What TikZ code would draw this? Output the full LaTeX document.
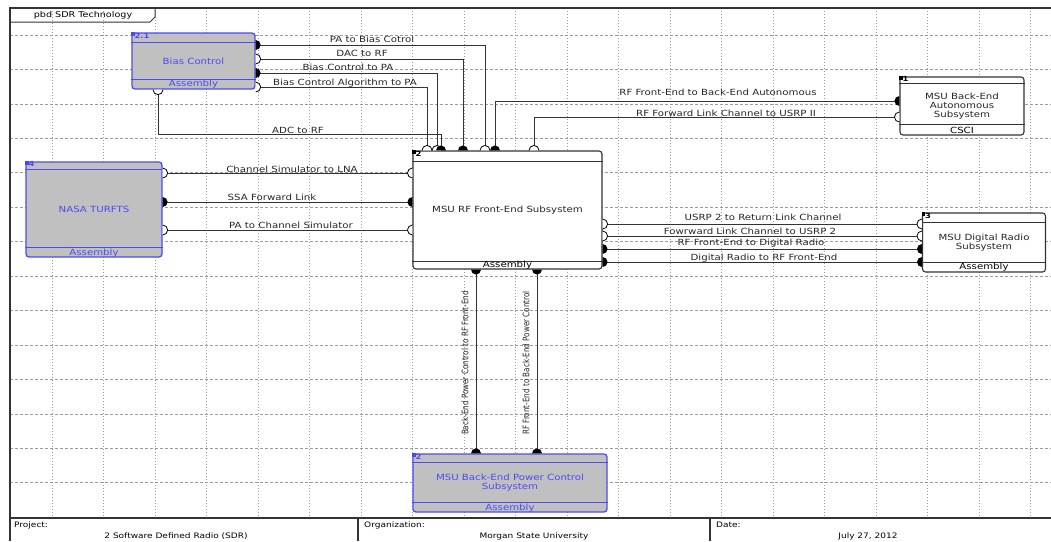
\documentclass[tikz,border=0pt]{standalone}
\usepackage{fontspec}
\setmainfont{DejaVu Sans}[FakeStretch=1.2]
\newfontfamily\narrowfont{DejaVu Sans}[FakeStretch=0.8]
\usetikzlibrary{calc}

\definecolor{partgray}{HTML}{C0C0C0}
\definecolor{partblue}{HTML}{4B4BF5}
\definecolor{gridgray}{HTML}{9C9C9C}

\tikzset{
    pics/ball/.style={code={
        \fill[black] (#1-90:5) arc[start angle=#1-90, delta angle=180, radius=5] -- cycle;}},
    pics/socket/.style={code={
        \draw[black, fill=white, line width=0.8pt] (#1-90:5) arc[start angle=#1-90, delta angle=180, radius=5];}}
}

\begin{document}
\begin{tikzpicture}[
            x=1pt, y=-1pt,
            font=\fontsize{8.5}{9}\selectfont,
            grid row/.style={gridgray, line width=0.8pt, dash pattern=on 3pt off 2pt},
            grid col/.style={gridgray, line width=0.8pt, dash pattern=on 1pt off 2pt},
            frame/.style={line width=1.6pt, black!80},
            wire/.style={line width=1pt, black!80},
            part/.style={rounded corners=3pt, inner sep=0pt, align=center},
            assembly/.style={part, draw=partblue, fill=partgray, text=partblue, line width=1.3pt},
            subsystem/.style={part, draw=black!80, fill=white, text=black!85, line width=1.1pt},
            band/.style={line width=1.1pt},
            partnum/.style={anchor=north west, inner sep=1pt, font=\fontsize{7}{7}\selectfont\bfseries},
            kind/.style={inner sep=0pt},
            lbl/.style={inner sep=0pt, text=black!85},
            vlbl/.style={inner sep=0pt, rotate=90, text=black!85, font=\narrowfont\fontsize{9}{9}\selectfont},
            title/.style={inner sep=0pt, font=\fontsize{7.5}{8}\selectfont}
            ]
            \useasboundingbox (0,0) rectangle (1051,541);

            % grid
            \foreach \gy in {0,...,13}
                \draw[grid row] (10,{35+34.45*\gy}) -- (1051,{35+34.45*\gy});
            \foreach \gx in {0,...,19}
                \draw[grid col] ({52+51.5*\gx},8) -- ({52+51.5*\gx},518);

            % frame and title block
            \draw[frame] (1051,8) -- (10,8) -- (10,541);
            \draw[frame] (10,518) -- (1051,518);
            \draw[frame] (358,518) -- (358,541);
            \draw[frame] (710,518) -- (710,541);
            \draw[line width=1pt, black!80] (10,22) -- (150,22) -- (155,17) -- (155,8);
            \node[title, font=\fontsize{8}{8}\selectfont] (diagname) at (83,15) {pbd SDR Technology};

            \node[title, anchor=west] (projhead) at (14,525) {Project:};
            \node[title] (projname) at (176,536) {2 Software Defined Radio (SDR)};
            \node[title, anchor=west] (orghead) at (364,525) {Organization:};
            \node[title] (orgname) at (534,536) {Morgan State University};
            \node[title, anchor=west] (datehead) at (716,525) {Date:};
            \node[title] (datename) at (868,536) {July 27, 2012};

            % parts
            \node[assembly, minimum width=123pt, minimum height=56pt] (bias) at (193.5,61) {Bias Control};
            \node[assembly, minimum width=136pt, minimum height=95pt] (nasa) at (94,209.5) {NASA TURFTS};
            \node[subsystem, minimum width=189pt, minimum height=118pt] (rf) at (507.5,210) {MSU RF Front-End Subsystem};
            \node[subsystem, minimum width=124pt, minimum height=58pt] (auto) at (962,106) {MSU Back-End\\Autonomous\\Subsystem};
            \node[subsystem, minimum width=123pt, minimum height=59pt] (radio) at (984,242.5) {MSU Digital Radio\\Subsystem};
            \node[assembly, minimum width=194pt, minimum height=58pt] (power) at (510,483) {MSU Back-End Power Control\\Subsystem};

            % header and footer bands
            \draw[band, partblue] ($(bias.north west)+(0,10)$) -- ($(bias.north east)+(0,10)$);
            \draw[band, partblue] ($(bias.south west)+(0,-10)$) -- ($(bias.south east)+(0,-10)$);
            \draw[band, partblue] ($(nasa.north west)+(0,8)$) -- ($(nasa.north east)+(0,8)$);
            \draw[band, partblue] ($(nasa.south west)+(0,-10)$) -- ($(nasa.south east)+(0,-10)$);
            \draw[band, black!80] ($(rf.north west)+(0,11)$) -- ($(rf.north east)+(0,11)$);
            \draw[band, black!80] ($(rf.south west)+(0,-8)$) -- ($(rf.south east)+(0,-8)$);
            \draw[band, black!80] ($(auto.north west)+(0,7)$) -- ($(auto.north east)+(0,7)$);
            \draw[band, black!80] ($(auto.south west)+(0,-11)$) -- ($(auto.south east)+(0,-11)$);
            \draw[band, black!80] ($(radio.north west)+(0,10)$) -- ($(radio.north east)+(0,10)$);
            \draw[band, black!80] ($(radio.south west)+(0,-10)$) -- ($(radio.south east)+(0,-10)$);
            \draw[band, partblue] ($(power.north west)+(0,9)$) -- ($(power.north east)+(0,9)$);
            \draw[band, partblue] ($(power.south west)+(0,-10)$) -- ($(power.south east)+(0,-10)$);

            % corner marks and numbers
            \fill[partblue] (bias.north west) rectangle ++(3.5,3.5);
            \fill[partblue] (nasa.north west) rectangle ++(3.5,3.5);
            \fill[black] (rf.north west) rectangle ++(3.5,3.5);
            \fill[black] (auto.north west) rectangle ++(3.5,3.5);
            \fill[black] (radio.north west) rectangle ++(3.5,3.5);
            \fill[partblue] (power.north west) rectangle ++(3.5,3.5);
            \node[partnum, text=partblue] (biasNum) at ($(bias.north west)+(2,0)$) {2.1};
            \node[partnum, text=partblue] (nasaNum) at ($(nasa.north west)+(2,-1)$) {4};
            \node[partnum] (rfNum) at ($(rf.north west)+(2,0)$) {2};
            \node[partnum] (autoNum) at ($(auto.north west)+(2,-1)$) {1};
            \node[partnum] (radioNum) at ($(radio.north west)+(2,0)$) {3};
            \node[partnum, text=partblue] (powerNum) at ($(power.north west)+(2,0)$) {2};

            % footer texts
            \node[kind, text=partblue] (biasKind) at ($(bias.south)+(0,-5)$) {Assembly};
            \node[kind, text=partblue] (nasaKind) at ($(nasa.south)+(0,-5)$) {Assembly};
            \node[kind] (rfKind) at ($(rf.south)+(0,-4)$) {Assembly};
            \node[kind] (autoKind) at ($(auto.south)+(0,-5.5)$) {CSCI};
            \node[kind] (radioKind) at ($(radio.south)+(0,-5)$) {Assembly};
            \node[kind, text=partblue] (powerKind) at ($(power.south)+(0,-5)$) {Assembly};

            % ports
            \coordinate (biasPA)  at (bias.east |- 0,45);
            \coordinate (biasDAC) at (bias.east |- 0,59);
            \coordinate (biasCtl) at (bias.east |- 0,73);
            \coordinate (biasAlg) at (bias.east |- 0,87);
            \coordinate (biasADC) at (158,0 |- bias.south);

            \coordinate (rfAlg)  at (427,0 |- rf.north);
            \coordinate (rfCtl)  at (437,0 |- rf.north);
            \coordinate (rfADC)  at (441,0 |- rf.north);
            \coordinate (rfDAC)  at (463,0 |- rf.north);
            \coordinate (rfPA)   at (485,0 |- rf.north);
            \coordinate (rfAuto) at (495,0 |- rf.north);
            \coordinate (rfFwd)  at (534,0 |- rf.north);
            \coordinate (rfLNA)  at (rf.west |- 0,173);
            \coordinate (rfSSA)  at (rf.west |- 0,202);
            \coordinate (rfChan) at (rf.west |- 0,230);
            \coordinate (rfUsrp)   at (rf.east |- 0,224);
            \coordinate (rfFwdL)   at (rf.east |- 0,236);
            \coordinate (rfToDR)   at (rf.east |- 0,249);
            \coordinate (rfFromDR) at (rf.east |- 0,262);
            \coordinate (rfPwrIn)  at (476,0 |- rf.south);
            \coordinate (rfPwrOut) at (537,0 |- rf.south);

            \coordinate (nasaLNA)  at (nasa.east |- 0,173);
            \coordinate (nasaSSA)  at (nasa.east |- 0,202);
            \coordinate (nasaChan) at (nasa.east |- 0,230);
            \coordinate (autoRF)  at (auto.west |- 0,101);
            \coordinate (autoFwd) at (auto.west |- 0,117);
            \coordinate (drUsrp)   at (radio.west |- 0,224);
            \coordinate (drFwdL)   at (radio.west |- 0,236);
            \coordinate (drFromRF) at (radio.west |- 0,249);
            \coordinate (drToRF)   at (radio.west |- 0,262);
            \coordinate (pwrIn)  at (476,0 |- power.north);
            \coordinate (pwrOut) at (537,0 |- power.north);

            % connectors
            \draw[wire] (biasPA) -| (rfPA);
            \draw[wire] (biasDAC) -| (rfDAC);
            \draw[wire] (biasCtl) -| (rfCtl);
            \draw[wire] (biasAlg) -| (rfAlg);
            \draw[wire] (biasADC) |- ($(rfADC)+(0,-16)$) -- (rfADC);
            \draw[wire] (rfAuto) |- (autoRF);
            \draw[wire] (rfFwd) |- (autoFwd);
            \draw[wire] (nasaLNA) -- (rfLNA);
            \draw[wire] (nasaSSA) -- (rfSSA);
            \draw[wire] (nasaChan) -- (rfChan);
            \draw[wire] (rfUsrp) -- (drUsrp);
            \draw[wire] (rfFwdL) -- (drFwdL);
            \draw[wire] (rfToDR) -- (drFromRF);
            \draw[wire] (rfFromDR) -- (drToRF);
            \draw[wire] (rfPwrIn) -- (pwrIn);
            \draw[wire] (rfPwrOut) -- (pwrOut);

            % port symbols
            \pic at (biasPA) {ball=0};
            \pic at (biasDAC) {socket=0};
            \pic at (biasCtl) {ball=0};
            \pic at (biasAlg) {socket=0};
            \pic at (biasADC) {socket=90};
            \pic at (rfAlg) {socket=270};
            \pic at (rfCtl) {socket=270};
            \pic at (rfADC) {ball=270};
            \pic at (rfDAC) {ball=270};
            \pic at (rfPA) {socket=270};
            \pic at (rfAuto) {ball=270};
            \pic at (rfFwd) {socket=270};
            \pic at (autoRF) {ball=180};
            \pic at (autoFwd) {socket=180};
            \pic at (nasaLNA) {socket=0};
            \pic at (nasaSSA) {ball=0};
            \pic at (nasaChan) {socket=0};
            \pic at (rfLNA) {socket=180};
            \pic at (rfSSA) {ball=180};
            \pic at (rfChan) {socket=180};
            \pic at (rfUsrp) {socket=0};
            \pic at (rfFwdL) {socket=0};
            \pic at (rfToDR) {ball=0};
            \pic at (rfFromDR) {ball=0};
            \pic at (drUsrp) {socket=180};
            \pic at (drFwdL) {socket=180};
            \pic at (drFromRF) {ball=180};
            \pic at (drToRF) {ball=180};
            \pic at (rfPwrIn) {ball=90};
            \pic at (rfPwrOut) {ball=90};
            \pic at (pwrIn) {ball=270};
            \pic at (pwrOut) {ball=270};

            % connector labels
            \node[lbl] (lblPA)   at (372,39) {PA to Bias Cotrol};
            \node[lbl] (lblDAC)  at (362,53) {DAC to RF};
            \node[lbl] (lblCtl)  at (348,67) {Bias Control to PA};
            \node[lbl] (lblAlg)  at (345,83) {Bias Control Algorithm to PA};
            \node[lbl] (lblADC)  at (298,130) {ADC to RF};
            \node[lbl] (lblAuto) at (718,92) {RF Front-End to Back-End Autonomous};
            \node[lbl] (lblFwd)  at (726,113) {RF Forward Link Channel to USRP II};
            \node[lbl] (lblLNA)  at (292,169) {Channel Simulator to LNA};
            \node[lbl] (lblSSA)  at (272,197) {SSA Forward Link};
            \node[lbl] (lblChan) at (291,225) {PA to Channel Simulator};
            \node[lbl] (lblUsrp) at (763,217) {USRP 2 to Return Link Channel};
            \node[lbl] (lblFwdL) at (750,231) {Fowrward Link Channel to USRP 2};
            \node[lbl] (lblToDR) at (751,243) {RF Front-End to Digital Radio};
            \node[lbl] (lblFromDR) at (764,258) {Digital Radio to RF Front-End};
            \node[vlbl] (lblPwrIn)  at (465,363) {Back-End Power Control to RF Front-End};
            \node[vlbl] (lblPwrOut) at (526,363) {RF Front-End to Back-End Power Control};

        \end{tikzpicture}
\end{document}
